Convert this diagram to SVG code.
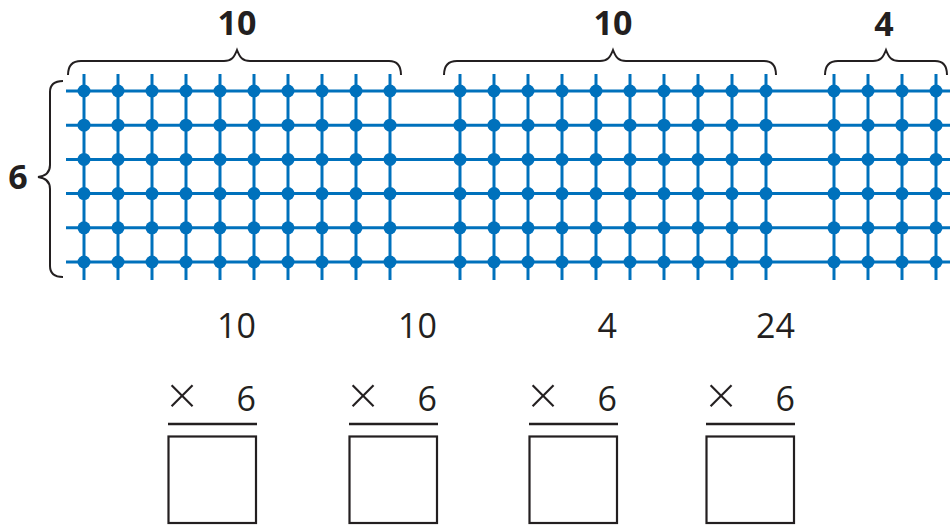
<svg xmlns="http://www.w3.org/2000/svg" width="950" height="525" viewBox="0 0 950 525">
<style>
.hl{stroke:#0071bc;stroke-width:3}
.vl{stroke:#0071bc;stroke-width:3}
.dot{fill:#0071bc}
.br{fill:none;stroke:#231f20;stroke-width:2}
.lb{font-family:"Open Sans","Liberation Sans",sans-serif;font-weight:bold;font-size:34px;fill:#231f20;text-anchor:middle}
.num{font-family:"Open Sans","Liberation Sans",sans-serif;font-size:34px;fill:#231f20;text-anchor:end}
.times{font-family:"Open Sans","Liberation Sans",sans-serif;font-weight:300;font-size:52px;fill:#231f20;text-anchor:middle}
.rule{stroke:#231f20;stroke-width:2.4}
.box{fill:#fff;stroke:#231f20;stroke-width:2.2}
</style>
<defs>
<g id="col">
<line class="vl" x1="0" y1="74" x2="0" y2="280"/>
<circle class="dot" cx="0" cy="91" r="6.5"/>
<circle class="dot" cx="0" cy="125.2" r="6.5"/>
<circle class="dot" cx="0" cy="159.4" r="6.5"/>
<circle class="dot" cx="0" cy="193.6" r="6.5"/>
<circle class="dot" cx="0" cy="227.8" r="6.5"/>
<circle class="dot" cx="0" cy="262" r="6.5"/>
</g>
</defs>
<g id="rows">
<line class="hl" x1="66" y1="91" x2="950" y2="91"/>
<line class="hl" x1="66" y1="125.2" x2="950" y2="125.2"/>
<line class="hl" x1="66" y1="159.4" x2="950" y2="159.4"/>
<line class="hl" x1="66" y1="193.6" x2="950" y2="193.6"/>
<line class="hl" x1="66" y1="227.8" x2="950" y2="227.8"/>
<line class="hl" x1="66" y1="262" x2="950" y2="262"/>
</g>
<g id="array-10a">
<use href="#col" x="84"/><use href="#col" x="118"/><use href="#col" x="152"/><use href="#col" x="186"/><use href="#col" x="220"/>
<use href="#col" x="254"/><use href="#col" x="288"/><use href="#col" x="322"/><use href="#col" x="356"/><use href="#col" x="390"/>
</g>
<g id="array-10b">
<use href="#col" x="460"/><use href="#col" x="494"/><use href="#col" x="528"/><use href="#col" x="562"/><use href="#col" x="596"/>
<use href="#col" x="630"/><use href="#col" x="664"/><use href="#col" x="698"/><use href="#col" x="732"/><use href="#col" x="766"/>
</g>
<g id="array-4">
<use href="#col" x="834"/><use href="#col" x="868"/><use href="#col" x="902"/><use href="#col" x="936"/>
</g>
<g id="brace-10a">
<path class="br" d="M68,75 C68,66 72,61 81,61 L224,61 C231,61 234,58 237,50 C240,58 243,61 250,61 L389,61 C397,61 401,66 401,75"/>
<text class="lb" x="237" y="35">10</text>
</g>
<g id="brace-10b">
<path class="br" d="M444,75 C444,66 448,61 457,61 L600,61 C607,61 610,58 613,50 C616,58 619,61 626,61 L764,61 C772,61 776,66 776,75"/>
<text class="lb" x="613" y="35">10</text>
</g>
<g id="brace-4">
<path class="br" d="M825,75 C825,66 829,61 838,61 L873,61 C880,61 883,58 886,50 C889,58 892,61 899,61 L935,61 C943,61 947,66 947,75"/>
<text class="lb" x="884" y="36">4</text>
</g>
<g id="brace-6">
<path class="br" d="M63,81 C55,81 50,84 50,92 L50,165 C50,172 46,176 38,177 C46,178 50,182 50,189 L50,266 C50,274 55,277 63,277"/>
<text class="lb" x="18" y="189" style="font-size:34px">6</text>
</g>
<g id="prob-1">
<text class="num" x="256" y="338">10</text>
<text class="times" x="182" y="414">×</text>
<text class="num" x="256" y="411">6</text>
<line class="rule" x1="168" y1="424" x2="257" y2="424"/>
<rect class="box" x="168.5" y="436.5" width="87.5" height="86.5"/>
</g>
<g id="prob-2">
<text class="num" x="437" y="338">10</text>
<text class="times" x="363" y="414">×</text>
<text class="num" x="437" y="411">6</text>
<line class="rule" x1="349" y1="424" x2="438" y2="424"/>
<rect class="box" x="349.5" y="436.5" width="87.5" height="86.5"/>
</g>
<g id="prob-3">
<text class="num" x="617" y="338">4</text>
<text class="times" x="543" y="414">×</text>
<text class="num" x="617" y="411">6</text>
<line class="rule" x1="529" y1="424" x2="618" y2="424"/>
<rect class="box" x="529.5" y="436.5" width="87.5" height="86.5"/>
</g>
<g id="prob-4">
<text class="num" x="795" y="338">24</text>
<text class="times" x="721" y="414">×</text>
<text class="num" x="795" y="411">6</text>
<line class="rule" x1="706" y1="424" x2="795" y2="424"/>
<rect class="box" x="706.5" y="436.5" width="87.5" height="86.5"/>
</g>
</svg>
